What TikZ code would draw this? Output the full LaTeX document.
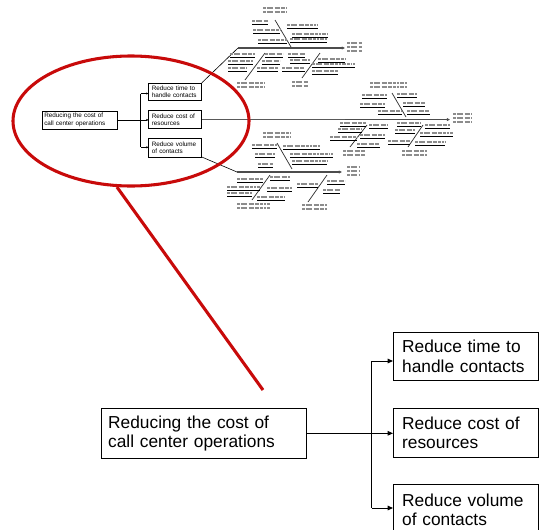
\documentclass[tikz,border=0pt]{standalone}
\usepackage{fontspec}
\setmainfont{Liberation Sans}
\usetikzlibrary{arrows.meta,shapes.geometric,calc}
\definecolor{ringred}{RGB}{200,10,10}

\newcommand\drawCallTree{%
  \node[rootbox] (root) at (0,0) {Reducing the cost of\\call center operations};
  \node[childbox, minimum height=36.2pt] (c1) at (292,-76.3) {Reduce time to\\handle contacts};
  \node[childbox, minimum height=36.75pt] (c2) at (292,-0.3) {Reduce cost of\\resources};
  \node[childbox, minimum height=37.5pt] (c3) at (292,76) {Reduce volume\\of contacts};
  \coordinate (j) at (270.7,24.5);
  \coordinate (jtop) at (270.7,-47);
  \coordinate (jbot) at (270.7,100);
  \draw[treeline] (root.east) -- (root.east -| j);
  \draw[treeline] (jtop) -- (jbot);
  \draw[treearrow] (jtop) -- (jtop -| c1.west);
  \draw[treearrow] (root.east -| j) -- (root.east -| c2.west);
  \draw[treearrow] (jbot) -- (jbot -| c3.west);
}
\newcommand\fbLab[3]{%
  \draw[fbtxt] (#1,#3-2.6) -- (#2,#3-2.6);
  \draw[fbul] (#1,#3) -- (#2,#3);}
\newcommand\fbCat[4]{%
  \foreach \kk in {1,...,#4} {\draw[fbtxt] (#1,#3+\kk*4-4) -- (#2,#3+\kk*4-4);}}

\begin{document}
\begin{tikzpicture}[x=0.75pt,y=-0.75pt,
  treeline/.style={line width=0.75pt},
  treearrow/.style={treeline,-{Triangle[length=4pt,width=3.4pt]}},
  rootbox/.style={draw, treeline, anchor=north west, align=left, text width=143.75pt,
    inner xsep=5pt, inner ysep=0pt, minimum height=37.2pt,
    font=\fontsize{13pt}{14.5pt}\selectfont},
  childbox/.style={draw, treeline, anchor=north west, align=left, text width=95.75pt,
    inner xsep=6.5pt, inner ysep=0pt, font=\fontsize{13pt}{14.5pt}\selectfont},
  spine/.style={line width=1.2pt, black!70, -{Triangle[length=2.4pt,width=2.2pt]}},
  rib/.style={line width=0.55pt, black!80},
  fbul/.style={line width=0.45pt, black},
  fbtxt/.style={line width=1.5pt, black!45, dash pattern=on 2.2pt off 0.6pt on 1.4pt off 0.6pt on 3pt off 0.9pt},
  ring/.style={draw=ringred, line width=2.3pt}
]
\useasboundingbox (0,0) rectangle (539,529);
\begin{scope}
\clip (0,0) rectangle (539,529);

% big tree
\begin{scope}[name prefix=big-, shift={(101,408)}]
  \drawCallTree
\end{scope}

% small tree
\begin{scope}[name prefix=small-, shift={(41.7,110.7)}, scale=0.366, transform shape,
  treeline/.style={line width=0.45pt},
  treearrow/.style={treeline,-{Triangle[length=1.6pt,width=1.4pt]}}]
  \drawCallTree
\end{scope}

% fishbone coordinates
\coordinate (fbA-tail) at (238,48);
\coordinate (fbA-head) at (345,48);
\coordinate (fbB-mid) at (345,119.6);
\coordinate (fbB-head) at (450,119.6);
\coordinate (fbC-tail) at (237,172);
\coordinate (fbC-head) at (342,172);

% connectors from small tree
\draw[line width=0.45pt] (small-c1.north east) -- (fbA-tail);
\draw[line width=0.45pt] (small-c2.east) -- (fbB-mid);
\draw[line width=0.45pt] (small-c3.south east) -- (fbC-tail);

% fishbone A
\draw[spine] (fbA-tail) -- (fbA-head);
\fbCat{347}{362}{43}{3}
\fbCat{263}{287}{8}{2}
\draw[rib] (275,20) -- (291,47);
\fbLab{252}{268}{24} \fbLab{253}{280}{33} \fbLab{258}{287}{43}
\fbLab{287}{318}{28} \fbLab{292}{328}{37} \fbLab{290}{327}{42}
\draw[rib] (265,53) -- (245,80);
\fbCat{237}{265}{83}{2}
\fbLab{230}{255}{57} \fbLab{228}{253}{64} \fbLab{228}{247}{71}
\fbLab{265}{283}{57} \fbLab{262}{280}{64} \fbLab{257}{278}{71}
\draw[rib] (320,53) -- (302,78);
\fbCat{292}{308}{82}{2}
\fbLab{288}{305}{57} \fbLab{290}{310}{63} \fbLab{282}{305}{71}
\fbLab{318}{345}{62} \fbLab{312}{355}{67} \fbLab{312}{338}{74}

% fishbone B
\draw[spine] (fbB-mid) -- (fbB-head);
\fbCat{453}{472}{114}{3}
\fbCat{370}{407}{83}{2}
\draw[rib] (392,93) -- (406,117);
\fbLab{362}{387}{98} \fbLab{360}{385}{107} \fbLab{378}{402}{114}
\fbLab{397}{417}{97} \fbLab{403}{425}{106} \fbLab{407}{430}{114}
\draw[rib] (367,125) -- (350,147);
\fbCat{343}{365}{151}{2}
\fbLab{340}{366}{126} \fbLab{338}{362}{132} \fbLab{330}{357}{140}
\fbLab{369}{388}{128} \fbLab{360}{385}{138} \fbLab{357}{380}{147}
\draw[rib] (423,125) -- (408,147);
\fbCat{402}{427}{151}{2}
\fbLab{397}{421}{126} \fbLab{395}{415}{133} \fbLab{388}{410}{144}
\fbLab{425}{450}{128} \fbLab{420}{453}{136} \fbLab{415}{445}{145}

% fishbone C
\draw[spine] (fbC-tail) -- (fbC-head);
\fbCat{347}{360}{167}{3}
\fbCat{263}{290}{133}{2}
\draw[rib] (277,143) -- (292,169);
\fbLab{252}{277}{148} \fbLab{255}{275}{157} \fbLab{258}{273}{167}
\fbLab{283}{320}{149} \fbLab{290}{333}{157} \fbLab{292}{327}{164}
\draw[rib] (270,175) -- (252,200);
\fbCat{237}{270}{204}{2}
\fbLab{237}{263}{182} \fbLab{227}{260}{190} \fbLab{227}{252}{196}
\fbLab{270}{290}{180} \fbLab{267}{292}{191} \fbLab{257}{285}{200}
\draw[rib] (327,175) -- (308,202);
\fbCat{302}{327}{205}{2}
\fbLab{297}{318}{187}
\fbLab{327}{345}{184} \fbLab{323}{340}{193}

% red callout
\node[ellipse, ring, minimum width=177pt, minimum height=97.5pt, inner sep=0pt] (zoomring) at (131,121) {};
\coordinate (pointer) at (263,390);
\draw[ring] (zoomring.-102) -- (pointer);
\end{scope}
\end{tikzpicture}
\end{document}
